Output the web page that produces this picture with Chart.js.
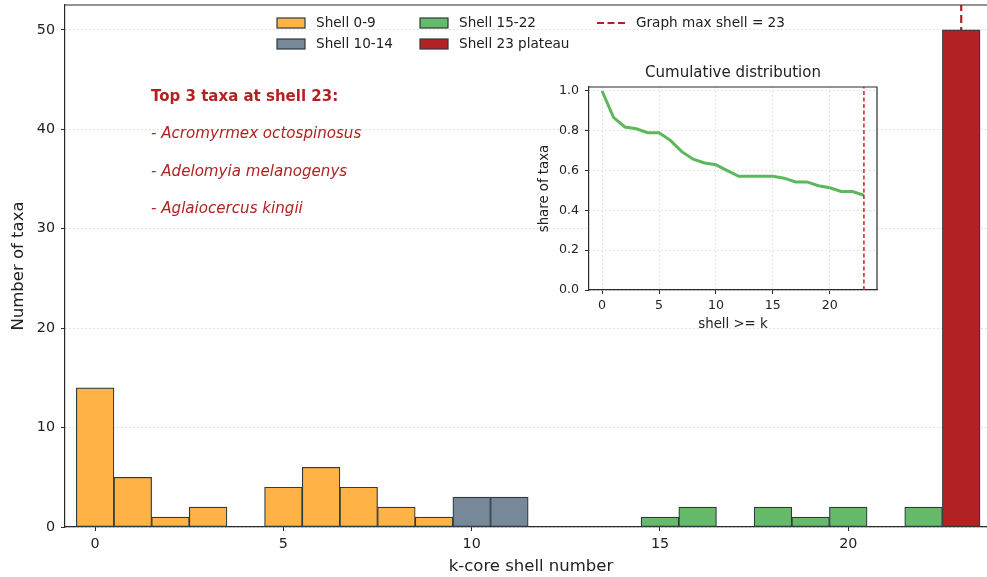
<!DOCTYPE html>
<html><head><meta charset="utf-8">
<script src="https://cdn.jsdelivr.net/npm/chart.js@4.4.1/dist/chart.umd.min.js"></script>
<style>
html,body{margin:0;padding:0;background:#fff;overflow:hidden;}
#wrap{position:relative;width:987px;height:577px;overflow:hidden;background:#fff;}
#main{position:absolute;left:0;top:0;}
#inset{position:absolute;left:520px;top:50px;}
</style></head><body>
<div id="wrap"><canvas id="main" width="997" height="577"></canvas><canvas id="inset" width="380" height="295"></canvas></div>
<script>
// ---- data ----
const shellNumbers = [0,1,2,3,4,5,6,7,8,9,10,11,12,13,14,15,16,17,18,19,20,21,22,23];
const taxaCounts   = [14,5,1,2,0,4,6,4,2,1,3,3,0,0,0,1,2,0,2,1,2,0,2,50];
const groupLabels  = ['Shell 0-9','Shell 10-14','Shell 15-22','Shell 23 plateau'];
const groupRanges  = [[0,9],[10,14],[15,22],[23,23]];
const graphMaxShell = 23;
const maxShellLabel = 'Graph max shell = 23';
const cumulativeK     = [0,1,2,3,4,5,6,7,8,9,10,11,12,13,14,15,16,17,18,19,20,21,22,23];
const cumulativeShare = [1.0,0.867,0.819,0.810,0.790,0.790,0.752,0.695,0.657,0.638,0.629,0.600,0.571,0.571,0.571,0.571,0.562,0.543,0.543,0.524,0.514,0.495,0.495,0.476];
const annotationTitle = 'Top 3 taxa at shell 23:';
const topTaxa = ['Acromyrmex octospinosus','Adelomyia melanogenys','Aglaiocercus kingii'];
const mainTitleX = 'k-core shell number';
const mainTitleY = 'Number of taxa';
const insetTitle = 'Cumulative distribution';
const insetTitleX = 'shell >= k';
const insetTitleY = 'share of taxa';

// ---- styles ----
const FONT = 'DejaVu Sans';
Chart.defaults.font.family = FONT;
Chart.defaults.color = '#222';
const groupColors = ['#ffb347','#778899','#66bb6a','#b22222'];
const edgeColor = '#2d3a40';
const spineColor = '#2a2a2a';
const gridColor = '#d4d4d4';
const maxLineColor = '#b22222';
const yMax = 52.5;

const barDatasets = groupLabels.map((label, g) => ({
  type: 'bar',
  label,
  data: shellNumbers
    .filter(s => s >= groupRanges[g][0] && s <= groupRanges[g][1] && taxaCounts[s] > 0)
    .map(s => ({x: s, y: taxaCounts[s]})),
  backgroundColor: groupColors[g],
  borderColor: edgeColor,
  borderWidth: 1.2,
  borderSkipped: false,
  barPercentage: 1,
  categoryPercentage: 1,
  grouped: false,
  order: 1
}));
const maxLineDataset = {
  type: 'line', label: maxShellLabel,
  data: [{x: graphMaxShell, y: 0}, {x: graphMaxShell, y: yMax}],
  borderColor: maxLineColor, borderWidth: 2.2, borderDash: [8, 4],
  pointRadius: 0, fill: false, order: 5
};

const legendItems = [
  {label: groupLabels[0], color: groupColors[0], col: 0, row: 0},
  {label: groupLabels[1], color: groupColors[1], col: 0, row: 1},
  {label: groupLabels[2], color: groupColors[2], col: 1, row: 0},
  {label: groupLabels[3], color: groupColors[3], col: 1, row: 1},
  {label: maxShellLabel, line: true, col: 2, row: 0}
];
const legendColX = [277, 420, 597];
const legendRowY = [23, 44];

function noPad(s) { s.paddingTop = 0; s.paddingBottom = 0; s.paddingLeft = 0; s.paddingRight = 0; }

const mainDecor = {
  id: 'mainDecor',
  afterDraw(chart) {
    const {ctx, chartArea: a} = chart;
    ctx.save();
    ctx.strokeStyle = spineColor; ctx.lineWidth = 1.2;
    ctx.beginPath(); ctx.moveTo(a.left, a.top); ctx.lineTo(a.right, a.top); ctx.lineTo(a.right, a.bottom); ctx.stroke();
    ctx.fillStyle = '#b22222';
    ctx.textBaseline = 'middle'; ctx.textAlign = 'left';
    ctx.font = 'bold 15px "' + FONT + '"';
    ctx.fillText(annotationTitle, 151, 97);
    ctx.font = 'italic 15.1px "' + FONT + '"';
    topTaxa.forEach((t, i) => ctx.fillText('- ' + t, 151, 134.5 + i * 37.5));
    ctx.font = '13.6px "' + FONT + '"';
    legendItems.forEach(it => {
      const x = legendColX[it.col], y = legendRowY[it.row];
      if (it.line) {
        ctx.strokeStyle = maxLineColor; ctx.lineWidth = 2.2; ctx.setLineDash([7, 3.5]);
        ctx.beginPath(); ctx.moveTo(x, y); ctx.lineTo(x + 28, y); ctx.stroke();
        ctx.setLineDash([]);
      } else {
        ctx.fillStyle = it.color; ctx.fillRect(x, y - 5, 28, 10);
        ctx.strokeStyle = edgeColor; ctx.lineWidth = 1.2; ctx.strokeRect(x, y - 5, 28, 10);
      }
      ctx.fillStyle = '#222';
      ctx.fillText(it.label, x + 39, y);
    });
    ctx.restore();
  }
};

new Chart(document.getElementById('main'), {
  type: 'bar',
  data: {datasets: [...barDatasets, maxLineDataset]},
  options: {
    responsive: false, animation: false,
    layout: {padding: {top: 5, left: 0, right: 0, bottom: 0}},
    plugins: {legend: {display: false}, tooltip: {enabled: false}, title: {display: false}},
    scales: {
      x: {
        type: 'linear', min: -0.8, max: 23.95, offset: false,
        ticks: {stepSize: 5, includeBounds: false, font: {size: 14.3}, padding: 5, color: '#222', maxRotation: 0},
        grid: {drawOnChartArea: false, drawTicks: true, tickLength: 4, tickColor: spineColor, tickWidth: 1, offset: false},
        border: {color: spineColor, width: 1.2},
        title: {display: true, text: mainTitleX, font: {size: 16.5}, color: '#222', padding: {top: 0, bottom: 0}},
        afterFit(s) { s.height = 50; noPad(s); }
      },
      y: {
        type: 'linear', min: 0, max: yMax,
        ticks: {stepSize: 10, includeBounds: false, font: {size: 14.3}, padding: 6, color: '#222'},
        grid: {color: gridColor, lineWidth: 0.9, drawTicks: true, tickLength: 4, tickColor: spineColor, tickWidth: 1},
        border: {color: spineColor, width: 1.2, dash: [1.5, 2.5]},
        title: {display: true, text: mainTitleY, font: {size: 16.5}, color: '#222', padding: {top: 9, bottom: 0}},
        afterFit(s) { s.width = 65; noPad(s); }
      }
    }
  },
  plugins: [mainDecor]
});

// ---- inset ----
const insetDecor = {
  id: 'insetDecor',
  beforeDraw(chart) {
    const {ctx, chartArea: a} = chart;
    ctx.save(); ctx.fillStyle = '#fff';
    ctx.fillRect(a.left, a.top, a.right - a.left, a.bottom - a.top);
    ctx.restore();
  },
  afterDraw(chart) {
    const {ctx, chartArea: a} = chart;
    ctx.save();
    ctx.strokeStyle = spineColor; ctx.lineWidth = 1.2;
    ctx.beginPath(); ctx.moveTo(a.left, a.top); ctx.lineTo(a.right, a.top); ctx.lineTo(a.right, a.bottom); ctx.stroke();
    ctx.fillStyle = '#222'; ctx.textAlign = 'center'; ctx.textBaseline = 'middle';
    ctx.font = '15px "' + FONT + '"';
    ctx.fillText(insetTitle, (a.left + a.right) / 2, a.top - 14);
    ctx.restore();
  }
};

new Chart(document.getElementById('inset'), {
  type: 'line',
  data: {datasets: [
    {label: 'cumulative', data: cumulativeK.map((k, i) => ({x: k, y: cumulativeShare[i]})),
     borderColor: '#5cb85c', borderWidth: 3, pointRadius: 0, tension: 0, fill: false, order: 2},
    {label: 'max', data: [{x: graphMaxShell, y: 0}, {x: graphMaxShell, y: 1.02}],
     borderColor: '#d42020', borderWidth: 1.5, borderDash: [4, 2.5], pointRadius: 0, fill: false, order: 1}
  ]},
  options: {
    responsive: false, animation: false,
    layout: {padding: {top: 37, right: 23, left: 0, bottom: 0}},
    plugins: {legend: {display: false}, tooltip: {enabled: false}, title: {display: false}},
    scales: {
      x: {
        type: 'linear', min: -1.15, max: 24.15,
        ticks: {stepSize: 5, includeBounds: false, font: {size: 12.6}, padding: 4, color: '#222', maxRotation: 0},
        grid: {color: gridColor, lineWidth: 0.9, drawTicks: true, tickLength: 4, tickColor: spineColor, tickWidth: 1},
        border: {color: spineColor, width: 1.2, dash: [1.5, 2.5]},
        title: {display: true, text: insetTitleX, font: {size: 13.3}, color: '#222', padding: {top: 0, bottom: 12}},
        afterFit(s) { s.height = 55; noPad(s); }
      },
      y: {
        type: 'linear', min: 0, max: 1.02,
        ticks: {stepSize: 0.2, includeBounds: false, font: {size: 12.6}, padding: 6, color: '#222',
                callback: v => Number(v).toFixed(1)},
        grid: {color: gridColor, lineWidth: 0.9, drawTicks: true, tickLength: 4, tickColor: spineColor, tickWidth: 1},
        border: {color: spineColor, width: 1.2, dash: [1.5, 2.5]},
        title: {display: true, text: insetTitleY, font: {size: 13.3}, color: '#222', padding: {top: 17, bottom: 0}},
        afterFit(s) { s.width = 69; noPad(s); }
      }
    }
  },
  plugins: [insetDecor]
});
</script>
</body></html>
